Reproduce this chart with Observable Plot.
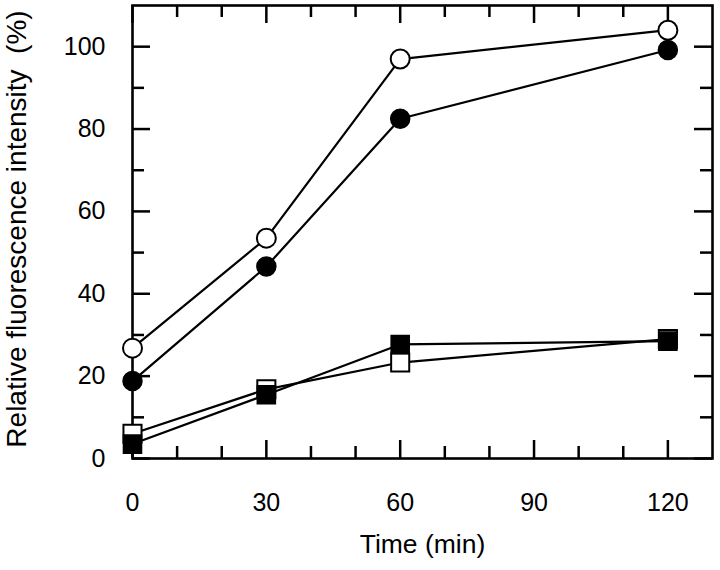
<!DOCTYPE html>
<html>
<head>
<meta charset="utf-8">
<script src="https://cdn.jsdelivr.net/npm/d3@7"></script>
<script src="https://cdn.jsdelivr.net/npm/@observablehq/plot@0.6"></script>
<style>
  html, body { margin: 0; padding: 0; background: #fff; }
  #chart { width: 720px; height: 570px; }
</style>
</head>
<body>
<div id="chart"></div>
<script>
// Data
const timePoints = [0, 30, 60, 120];
const openCircle = [26.8, 53.5, 97.0, 104.0];
const filledCircle = [18.8, 46.6, 82.5, 99.2];
const openSquare = [6.0, 16.8, 23.3, 29.0];
const filledSquare = [3.5, 15.5, 27.7, 28.5];

const xMajor = [0, 30, 60, 90, 120];
const xMinor = [10, 20, 40, 50, 70, 80, 100, 110];
const yMajor = [0, 20, 40, 60, 80, 100];
const yMinor = [10, 30, 50, 70, 90];

const xTitle = "Time (min)";
const yTitle = "Relative fluorescence intensity\u00a0\u00a0(%)";

const W = 720, H = 570;
const mL = 132, mR = 8, mT = 5, mB = 112;
const innerW = W - mL - mR, innerH = H - mT - mB;

const rows = (vals, series) => timePoints.map((t, i) => ({time: t, value: vals[i], series}));
const oc = rows(openCircle, "oc");
const fc = rows(filledCircle, "fc");
const os = rows(openSquare, "os");
const fs = rows(filledSquare, "fs");

const MAJ = 18, MIN = 12, TW = 2.5;

const chart = Plot.plot({
  width: W, height: H,
  marginLeft: mL, marginRight: mR, marginTop: mT, marginBottom: mB,
  x: {domain: [0, 130]},
  y: {domain: [0, 110]},
  style: {fontFamily: "'Liberation Sans', Arial, Helvetica, sans-serif", fontSize: "25px", color: "black", background: "white"},
  marks: [
    // inward ticks: bottom
    Plot.tickX(xMajor, {x: d => d, insetTop: innerH - MAJ, stroke: "black", strokeWidth: TW}),
    Plot.tickX(xMinor, {x: d => d, insetTop: innerH - MIN, stroke: "black", strokeWidth: TW}),
    // top
    Plot.tickX(xMajor, {x: d => d, insetBottom: innerH - MAJ, stroke: "black", strokeWidth: TW}),
    Plot.tickX(xMinor, {x: d => d, insetBottom: innerH - MIN, stroke: "black", strokeWidth: TW}),
    // left
    Plot.tickY(yMajor, {y: d => d, insetRight: innerW - MAJ, stroke: "black", strokeWidth: TW}),
    Plot.tickY(yMinor, {y: d => d, insetRight: innerW - MIN, stroke: "black", strokeWidth: TW}),
    // right
    Plot.tickY(yMajor, {y: d => d, insetLeft: innerW - MAJ, stroke: "black", strokeWidth: TW}),
    Plot.tickY(yMinor, {y: d => d, insetLeft: innerW - MIN, stroke: "black", strokeWidth: TW}),
    Plot.frame({stroke: "black", strokeWidth: 2.6}),
    Plot.axisX(xMajor, {tickSize: 0, tickPadding: 35, label: null}),
    Plot.axisY(yMajor, {tickSize: 0, tickPadding: 27, label: null}),
    // lines
    Plot.line(oc, {x: "time", y: "value", stroke: "black", strokeWidth: 2.2}),
    Plot.line(fc, {x: "time", y: "value", stroke: "black", strokeWidth: 2.2}),
    Plot.line(os, {x: "time", y: "value", stroke: "black", strokeWidth: 2.2}),
    Plot.line(fs, {x: "time", y: "value", stroke: "black", strokeWidth: 2.2}),
    // markers
    Plot.dot(oc, {x: "time", y: "value", r: 9.5, fill: "white", stroke: "black", strokeWidth: 2}),
    Plot.dot(fc, {x: "time", y: "value", r: 9.5, fill: "black", stroke: "black", strokeWidth: 1.5}),
    Plot.dot(os, {x: "time", y: "value", symbol: "square", r: 10.2, fill: "white", stroke: "black", strokeWidth: 2}),
    Plot.dot(fs, {x: "time", y: "value", symbol: "square", r: 10.2, fill: "black", stroke: "black", strokeWidth: 1.5}),
    // axis titles
    Plot.text([xTitle], {frameAnchor: "bottom", textAnchor: "middle", text: d => d, dy: 94, fontSize: 26.5, fill: "black"}),
    Plot.text([yTitle], {frameAnchor: "left", textAnchor: "middle", text: d => d, dx: -115, dy: -3, rotate: -90, fontSize: 28, fill: "black"})
  ]
});
document.getElementById("chart").appendChild(chart);
</script>
</body>
</html>
